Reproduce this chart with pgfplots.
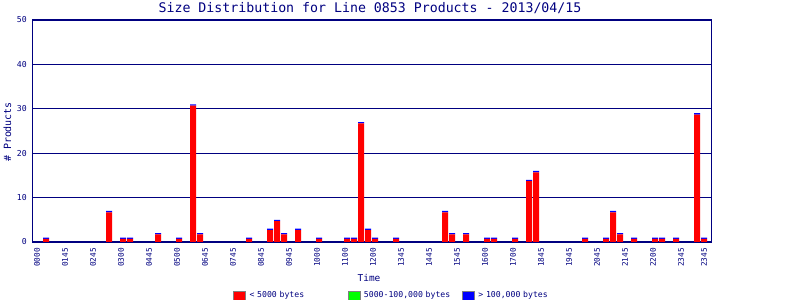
\documentclass[border=0pt]{standalone}
\usepackage{pgfplots}
\pgfplotsset{compat=1.18}
\usepackage{pgfplotstable}
\usepackage{fontspec}
\setmainfont{DejaVu Sans Mono}
\setmonofont{DejaVu Sans Mono}
\definecolor{navy}{RGB}{0,0,128}
\pgfplotstableread{
x r b
1 0.7 0.3
10 6.7 0.3
12 0.7 0.3
13 0.7 0.3
17 1.7 0.3
20 0.7 0.3
22 30.7 0.3
23 1.7 0.3
30 0.7 0.3
33 2.7 0.3
34 4.7 0.3
35 1.7 0.3
37 2.7 0.3
40 0.7 0.3
44 0.7 0.3
45 0.7 0.3
46 26.7 0.3
47 2.7 0.3
48 0.7 0.3
51 0.7 0.3
58 6.7 0.3
59 1.7 0.3
61 1.7 0.3
64 0.7 0.3
65 0.7 0.3
68 0.7 0.3
70 13.7 0.3
71 15.7 0.3
78 0.7 0.3
81 0.7 0.3
82 6.7 0.3
83 1.7 0.3
85 0.7 0.3
88 0.7 0.3
89 0.7 0.3
91 0.7 0.3
94 28.7 0.3
95 0.7 0.3
}\data
\begin{document}
\begin{tikzpicture}
\path[use as bounding box] (0,0) rectangle (800bp,300bp);
\begin{axis}[
  at={(32bp,58bp)}, anchor=south west,
  scale only axis, width=679bp, height=222bp,
  xmin=-1, xmax=96, ymin=0, ymax=50,
  ybar stacked, bar width=6bp,
  axis line style={navy, line width=1bp},
  ytick={0,10,20,30,40,50},
  ymajorgrids, grid style={navy, line width=1.3bp},
  major tick length=0,
  xtick={-0.29,3.71,7.71,11.71,15.71,19.71,23.71,27.71,31.71,35.71,39.71,43.71,47.71,51.71,55.71,59.71,63.71,67.71,71.71,75.71,79.71,83.71,87.71,91.71,95},
  xticklabels={0000,0145,0245,0300,0445,0500,0645,0745,0845,0945,1000,1100,1200,1345,1445,1545,1600,1700,1845,1945,2045,2145,2200,2345,2345},
  x tick label style={rotate=90, anchor=east, font=\fontsize{7.8}{8}\selectfont, text=navy, inner xsep=6bp, inner ysep=0pt},
  y tick label style={font=\fontsize{8.2}{8}\selectfont, text=navy, inner xsep=5bp, /pgf/number format/assume math mode=true},
  legend columns=3,
  legend style={at={(0.296,-0.241)}, anchor=west, draw=none, fill=none, inner sep=0pt,
    font=\fontsize{8.2}{8}\selectfont, text=navy,
    nodes={inner xsep=4bp, inner ysep=0pt, text width=90bp, align=left},
    /tikz/every even column/.append style={column sep=4bp}},
]
\addplot[fill=red, draw=none, legend image code/.code={\draw[fill=red, draw=gray] (0bp,-4.5bp) rectangle (12bp,4.5bp);}] table[x=x,y=r]{\data};
\addlegendentry{< 5000 bytes}
\addlegendimage{legend image code/.code={\draw[fill=green, draw=gray] (0bp,-4.5bp) rectangle (12bp,4.5bp);}}
\addlegendentry{5000-100,000 bytes}
\addplot[fill=blue, draw=none, legend image code/.code={\draw[fill=blue, draw=gray] (0bp,-4.5bp) rectangle (12bp,4.5bp);}] table[x=x,y=b]{\data};
\addlegendentry{> 100,000 bytes}
\end{axis}
\node[text=navy, font=\fontsize{13.3}{15}\selectfont] at (370bp,292bp) {Size Distribution for Line 0853 Products - 2013/04/15};
\node[text=navy, font=\fontsize{10}{12}\selectfont, rotate=90] at (7.5bp,168bp) {\# Products};
\node[text=navy, font=\fontsize{9.5}{11}\selectfont] at (369bp,22bp) {Time};
\end{tikzpicture}
\end{document}
